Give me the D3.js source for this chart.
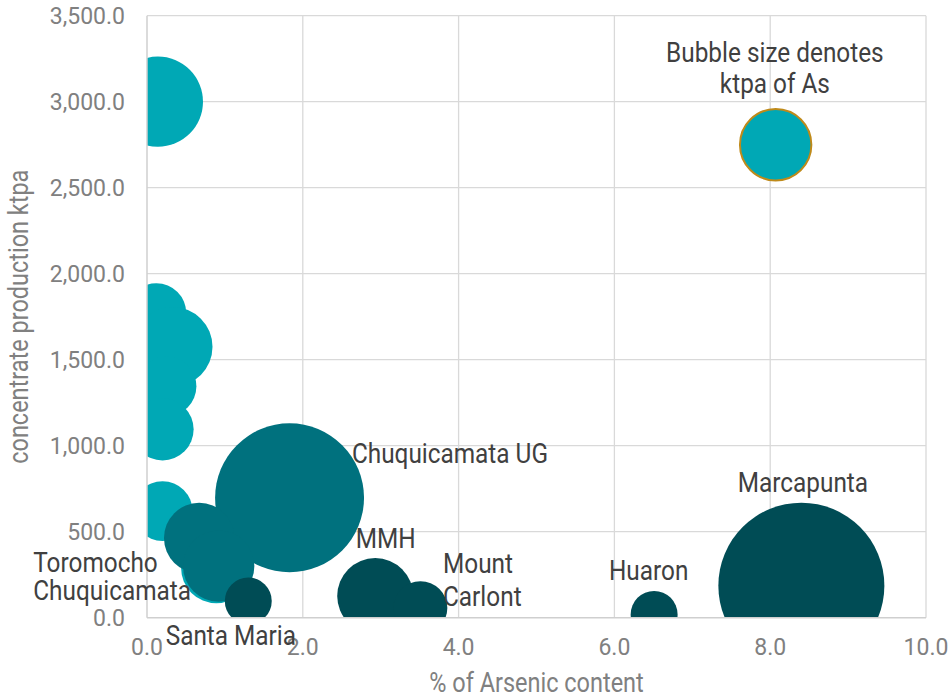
<!DOCTYPE html>
<html>
<head>
<meta charset="utf-8">
<script src="https://cdn.jsdelivr.net/npm/d3@7"></script>
<style>
  html, body { margin:0; padding:0; background:#fff; }
  svg { display:block; font-family: Roboto, "Noto Sans", sans-serif; }
  .tick-lbl { fill:#808080; font-size:23px; }
  .ax-title { fill:#808080; font-size:27px; }
  .dlabel { fill:#404040; font-size:28px; }
</style>
</head>
<body>
<svg id="chart" width="949" height="695"></svg>
<script>
/* Bubble chart: % of arsenic vs concentrate production, bubble = ktpa As */

// series 1 (light teal)
const lightX = [0.12, 0.14, 0.33, 0.25, 0.20, 0.20, 0.89];
const lightY = [1770, 3000, 1575, 1345, 1095, 620, 289];
const lightS = [2.6, 5.9, 4.6, 2.6, 2.8, 2.6, 3.6];

// series 2 (mid teal)
const midX = [1.83, 0.67, 0.92];
const midY = [697, 463, 300];
const midS = [16.1, 3.6, 3.7];

// series 3 (dark teal)
const darkX = [1.30, 2.93, 3.51, 6.51, 8.40];
const darkY = [97, 126, 56, 19, 186];
const darkS = [1.6, 4.2, 2.1, 1.6, 20];

// bubble used as legend
const legendX = [8.07];
const legendY = [2750];
const legendS = [3.7];

const xTicks = [0, 2, 4, 6, 8, 10];
const yTicks = [0, 500, 1000, 1500, 2000, 2500, 3000, 3500];

// data labels (data units, baseline)
const labelText = ["Toromocho", "Chuquicamata", "Santa Maria", "Chuquicamata UG", "MMH",
                   "Mount", "Carlont", "Huaron", "Marcapunta", "Bubble size denotes", "ktpa of As"];
const labelX = [-1.46, -1.46, 0.24, 2.63, 2.68, 3.80, 3.80, 6.44, 8.42, 8.06, 8.06];
const labelY = [266, 103, -159, 898, 405, 260, 68, 219, 731, 3232, 3049];
const labelAnchor = ["start","start","start","start","start","start","start","middle","middle","middle","middle"];

const svg = d3.select("#chart");
const pL = 147, pR = 926, pT = 15.7, pB = 617.7;
const narrow = 0.87;   // no Roboto Condensed installed, squeeze Roboto instead

const x = d3.scaleLinear().domain([0, 10]).range([pL, pR]);
const y = d3.scaleLinear().domain([0, 3500]).range([pB, pT]);
const r = d3.scaleSqrt().domain([0, 20]).range([0, 83]);

svg.append("clipPath").attr("id","plot")
  .append("rect").attr("x", pL).attr("y", pT)
  .attr("width", pR - pL).attr("height", pB - pT);

// grid
const grid = svg.append("g").attr("stroke","#d9d9d9").attr("stroke-width",1.3);
grid.selectAll("line.v").data(xTicks.slice(1)).enter().append("line")
  .attr("x1", d => x(d)).attr("x2", d => x(d)).attr("y1", pT).attr("y2", pB);
grid.selectAll("line.h").data(yTicks.slice(1)).enter().append("line")
  .attr("x1", pL).attr("x2", pR).attr("y1", d => y(d)).attr("y2", d => y(d));

// bubbles
function zip(xs, ys, ss){ return xs.map((v,i) => ({x:v, y:ys[i], s:ss[i]})); }
const series = [
  {data: zip(lightX, lightY, lightS), fill:"#00a8b5"},
  {data: zip(midX, midY, midS), fill:"#00717e"},
  {data: zip(darkX, darkY, darkS), fill:"#004c55"}
];
const bub = svg.append("g").attr("clip-path","url(#plot)");
series.forEach(sr => {
  bub.append("g").selectAll("circle").data(sr.data).enter().append("circle")
    .attr("cx", d => x(d.x)).attr("cy", d => y(d.y)).attr("r", d => r(d.s))
    .attr("fill", sr.fill);
});
bub.append("g").selectAll("circle").data(zip(legendX, legendY, legendS)).enter().append("circle")
  .attr("cx", d => x(d.x)).attr("cy", d => y(d.y)).attr("r", d => r(d.s))
  .attr("fill","#00a8b5").attr("stroke","#bf8a1a").attr("stroke-width",2);

// axis lines
svg.append("line").attr("x1",pL).attr("x2",pL).attr("y1",pT).attr("y2",pB)
  .attr("stroke","#cfcfcf").attr("stroke-width",1.5);
svg.append("line").attr("x1",pL).attr("x2",pR).attr("y1",pB).attr("y2",pB)
  .attr("stroke","#cfcfcf").attr("stroke-width",1.5);

// tick labels
const fmt = d3.format(",.1f");
svg.selectAll("text.yt").data(yTicks).enter().append("text")
  .attr("class","tick-lbl").attr("text-anchor","end")
  .attr("x", pL - 22).attr("y", d => y(d)).attr("dy","0.36em")
  .text(d => fmt(d));
svg.selectAll("text.xt").data(xTicks).enter().append("text")
  .attr("class","tick-lbl").attr("text-anchor","middle")
  .attr("x", d => x(d)).attr("y", pB + 37)
  .text(d => fmt(d));

// axis titles
svg.append("text").attr("class","ax-title").attr("text-anchor","middle")
  .attr("transform", "translate(" + ((pL + pR) / 2) + ",692) scale(" + narrow + ",1)")
  .text("% of Arsenic content");
svg.append("text").attr("class","ax-title").attr("text-anchor","middle")
  .attr("transform", "translate(28," + ((pT + pB) / 2) + ") rotate(-90) scale(" + narrow + ",1)")
  .text("concentrate production ktpa");

// data labels
svg.selectAll("text.dl").data(labelText).enter().append("text")
  .attr("class","dlabel")
  .attr("transform", (d,i) => "translate(" + x(labelX[i]) + "," + y(labelY[i]) + ") scale(" + narrow + ",1)")
  .attr("text-anchor", (d,i) => labelAnchor[i])
  .text(d => d);
</script>
</body>
</html>
